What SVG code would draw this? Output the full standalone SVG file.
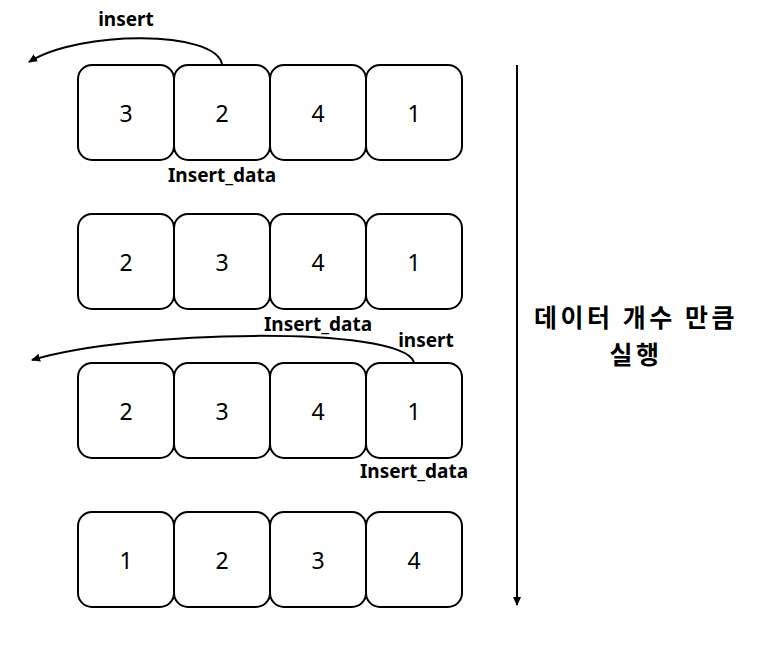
<svg xmlns="http://www.w3.org/2000/svg" width="759" height="645" viewBox="0 0 759 645">
<defs>
<marker id="ah" markerWidth="10" markerHeight="10" refX="8" refY="5" orient="auto" markerUnits="userSpaceOnUse">
<path d="M0,1 L9,5 L0,9 Z" fill="#000"/>
</marker>
<style>
.box{fill:#fff;stroke:#000;stroke-width:2}
.num{font-family:"Noto Sans","Noto Sans CJK KR",sans-serif;font-size:23px;text-anchor:middle;dominant-baseline:central;fill:#000}
.lbl{font-family:"Noto Sans","Noto Sans CJK KR",sans-serif;font-size:19px;font-weight:bold;text-anchor:middle;fill:#000}
.kr{font-family:"Noto Sans CJK KR",sans-serif;font-size:25px;font-weight:bold;text-anchor:middle;letter-spacing:3.5px;fill:#000}
.con{fill:none;stroke:#000;stroke-width:2}
</style>
</defs>
<rect width="759" height="645" fill="#fff"/>
<g id="row1">
<g id="r1c1"><rect class="box" x="78" y="65" width="96" height="95" rx="14"/><text class="num" x="126" y="113">3</text></g>
<g id="r1c2"><rect class="box" x="174" y="65" width="96" height="95" rx="14"/><text class="num" x="222" y="113">2</text></g>
<g id="r1c3"><rect class="box" x="270" y="65" width="96" height="95" rx="14"/><text class="num" x="318" y="113">4</text></g>
<g id="r1c4"><rect class="box" x="366" y="65" width="96" height="95" rx="14"/><text class="num" x="414" y="113">1</text></g>
</g>
<g id="row2">
<g id="r2c1"><rect class="box" x="78" y="214" width="96" height="95" rx="14"/><text class="num" x="126" y="262">2</text></g>
<g id="r2c2"><rect class="box" x="174" y="214" width="96" height="95" rx="14"/><text class="num" x="222" y="262">3</text></g>
<g id="r2c3"><rect class="box" x="270" y="214" width="96" height="95" rx="14"/><text class="num" x="318" y="262">4</text></g>
<g id="r2c4"><rect class="box" x="366" y="214" width="96" height="95" rx="14"/><text class="num" x="414" y="262">1</text></g>
</g>
<g id="row3">
<g id="r3c1"><rect class="box" x="78" y="363" width="96" height="95" rx="14"/><text class="num" x="126" y="411">2</text></g>
<g id="r3c2"><rect class="box" x="174" y="363" width="96" height="95" rx="14"/><text class="num" x="222" y="411">3</text></g>
<g id="r3c3"><rect class="box" x="270" y="363" width="96" height="95" rx="14"/><text class="num" x="318" y="411">4</text></g>
<g id="r3c4"><rect class="box" x="366" y="363" width="96" height="95" rx="14"/><text class="num" x="414" y="411">1</text></g>
</g>
<g id="row4">
<g id="r4c1"><rect class="box" x="78" y="512" width="96" height="95" rx="14"/><text class="num" x="126" y="560">1</text></g>
<g id="r4c2"><rect class="box" x="174" y="512" width="96" height="95" rx="14"/><text class="num" x="222" y="560">2</text></g>
<g id="r4c3"><rect class="box" x="270" y="512" width="96" height="95" rx="14"/><text class="num" x="318" y="560">3</text></g>
<g id="r4c4"><rect class="box" x="366" y="512" width="96" height="95" rx="14"/><text class="num" x="414" y="560">4</text></g>
</g>
<g id="connectors">
<path class="con" d="M222,64 C215,30 80,30 29,62" marker-end="url(#ah)"/>
<path class="con" d="M414,362 C400,325 130,330 32,360" marker-end="url(#ah)"/>
<path class="con" d="M517,65 L517,605" marker-end="url(#ah)"/>
</g>
<g id="labels">
<text class="lbl" x="126" y="26">insert</text>
<text class="lbl" x="222" y="182">Insert_data</text>
<text class="lbl" x="318" y="331">Insert_data</text>
<text class="lbl" x="426" y="347">insert</text>
<text class="lbl" x="414" y="478">Insert_data</text>
<text class="kr" x="636" y="327">데이터 개수 만큼</text>
<text class="kr" x="636" y="364">실행</text>
</g>
</svg>
